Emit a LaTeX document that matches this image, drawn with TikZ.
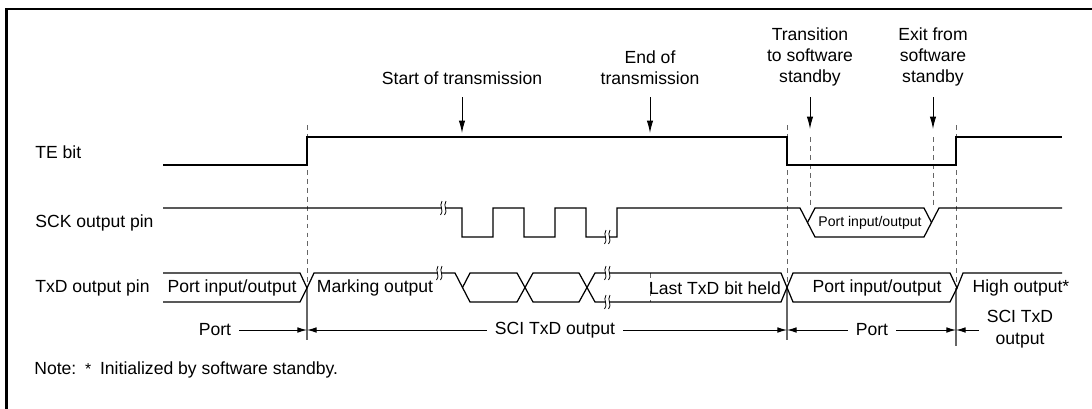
\documentclass[tikz,border=0pt]{standalone}
\usepackage{fontspec}
\setmainfont{Liberation Sans}
\usetikzlibrary{arrows.meta}

\newcommand\brk[2]{%
  \fill[white] (#1-0.5,#2+7) .. controls (#1+3.5,#2+1) and (#1-2.5,#2-1) .. (#1+1,#2-7)
    -- (#1+5,#2-7) .. controls (#1+1.5,#2-1) and (#1+7.5,#2+1) .. (#1+3.5,#2+7) -- cycle;
  \draw[line width=0.45pt] (#1-0.5,#2+7) .. controls (#1+3.5,#2+1) and (#1-2.5,#2-1) .. (#1+1,#2-7);
  \draw[line width=0.45pt] (#1+3.5,#2+7) .. controls (#1+7.5,#2+1) and (#1+1.5,#2-1) .. (#1+5,#2-7);}

\begin{document}
\begin{tikzpicture}[x=0.02cm, y=-0.02cm,
  sig/.style={line width=0.7pt, line join=miter},
  guide/.style={dashed, dash pattern=on 2.8pt off 2.3pt, line width=0.5pt, black!60},
  edge/.style={line width=0.6pt, black!60},
  lbl/.style={font=\fontsize{10}{12.2}\selectfont, inner sep=0pt, align=center},
  small/.style={font=\fontsize{8}{9.6}\selectfont, inner sep=0pt},
  dim/.style={line width=0.5pt, -{Latex[length=5.5pt, width=3.2pt]}},
  dimtxt/.style={lbl, inner xsep=4.5pt},
  event/.style={line width=0.5pt, -{Latex[length=7pt, width=3.6pt]}}]
\useasboundingbox (0,0) rectangle (1092,409);
\draw[line width=1.5pt] (6.5,409) -- (6.5,9) -- (1092,9);

% events
\node[lbl] (start) at (462,78) {Start of transmission};
\node[lbl] (end) at (650,67.5) {End of\\transmission};
\node[lbl] (trans) at (810,57) {Transition\\to software\\standby};
\node[lbl] (exit) at (933,57) {Exit from\\software\\standby};
\coordinate (s0) at (462,97);  \coordinate (s1) at (462,133);
\coordinate (e0) at (650,97);  \coordinate (e1) at (650,133);
\coordinate (t0) at (810,97);  \coordinate (t1) at (810,129);
\coordinate (x0) at (933,97);  \coordinate (x1) at (933,129);
\draw[event] (s0) -- (s1);
\draw[event] (e0) -- (e1);
\draw[event] (t0) -- (t1);
\draw[event] (x0) -- (x1);

% guides
\draw[guide] (307,125) -- (307,288);
\draw[guide] (787,125) -- (787,288);
\draw[guide] (956,125) -- (956,288);
\draw[guide] (810,137) -- (810,207);
\draw[guide] (933,137) -- (933,207);
\draw[guide] (650,273) -- (650,302);
\draw[edge] (307,288) -- (307,340);
\draw[edge] (787,288) -- (787,340);
\draw[edge] (956,288) -- (956,346);

% signal names
\node[lbl, anchor=west] (te) at (35,152) {TE bit};
\node[lbl, anchor=west] (sck) at (35,223) {SCK output pin};
\node[lbl, anchor=west] (txd) at (35,288) {TxD output pin};

% TE bit
\draw[sig] (163,165) -- (307,165) -- (307,137) -- (787,137) -- (787,165)
  -- (956,165) -- (956,137) -- (1062,137);

% SCK
\draw[sig] (163,208) -- (462,208) -- (462,237) -- (493,237) -- (493,208)
  -- (524,208) -- (524,237) -- (555,237) -- (555,208) -- (586,208) -- (586,237)
  -- (617,237) -- (617,208) -- (800,208) -- (815,237) -- (924,237) -- (939,208)
  -- (1062,208);
\draw[sig] (807.5,222.5) -- (815,208) -- (924,208) -- (931.5,222.5);
\node[small] (sckport) at (870,222.5) {Port input/output};
\brk{441}{208}
\brk{605}{237}

% TxD
\draw[sig] (163,273) -- (300,273) -- (307,288) -- (300,302) -- (163,302);
\draw[sig] (307,288) -- (314,273) -- (455,273) -- (470,302) -- (517,302)
  -- (533,273) -- (579,273) -- (595,302) -- (781,302) -- (793,273) -- (950,273)
  -- (957,288) -- (963,273) -- (1062,273);
\draw[sig] (462.5,287.5) -- (470,273) -- (517,273) -- (533,302) -- (579,302)
  -- (595,273) -- (781,273) -- (793,302) -- (950,302) -- (957,288);
\brk{437}{273}
\brk{605}{273}
\brk{605}{302}
\node[lbl] (portio) at (232,288) {Port input/output};
\node[lbl] (marking) at (375,288) {Marking output};
\node[lbl] (held) at (715,288) {Last TxD bit held};
\node[lbl] (portio2) at (877,288) {Port input/output};
\node[lbl] (high) at (1021,288) {High output*};

% output modes
\node[dimtxt] (m1) at (215,330) {Port};
\node[dimtxt] (m2) at (555,330) {SCI TxD output};
\node[dimtxt] (m3) at (872,330) {Port};
\node[dimtxt] (m4) at (1020,329) {SCI TxD\\output};
\coordinate (b1) at (307,330);
\coordinate (b2) at (787,330);
\coordinate (b3) at (956,330);
\draw[dim] (m1.east) -- (b1);
\draw[dim] (m2.west) -- (b1);
\draw[dim] (m2.east) -- (b2);
\draw[dim] (m3.west) -- (b2);
\draw[dim] (m3.east) -- (b3);
\draw[dim] (m4.west |- b3) -- (b3);

\node[lbl, anchor=west] (note) at (34,370) {Note:\enspace{\small *}\enspace Initialized by software standby.};
\end{tikzpicture}
\end{document}
